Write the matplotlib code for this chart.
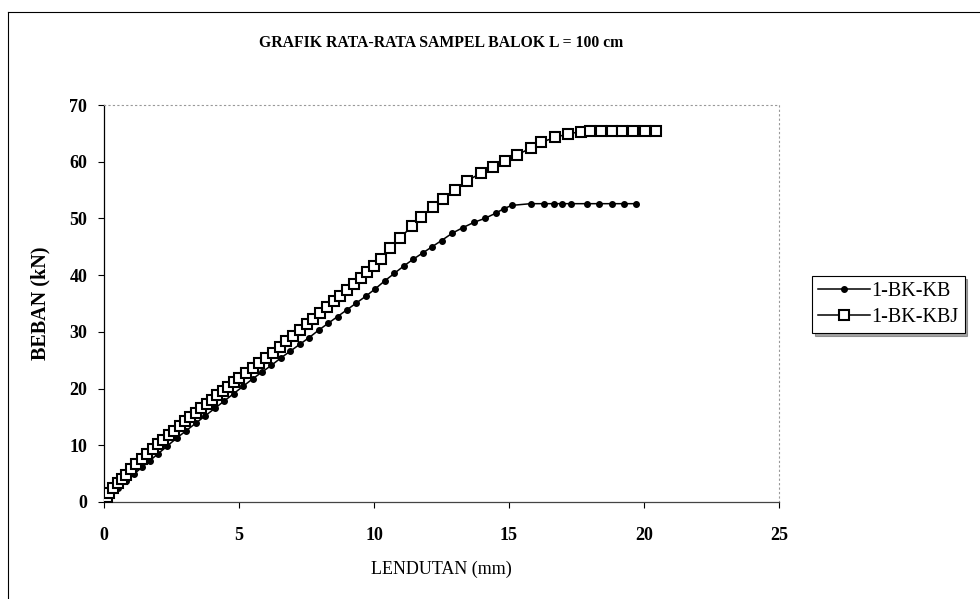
import matplotlib as mpl
mpl.use('Agg')
import matplotlib.pyplot as plt
from matplotlib.lines import Line2D

plt.rcParams['font.family'] = ['Liberation Serif', 'DejaVu Serif']

# 1-BK-KB (dots)
kb_x = [0, 0.25, 0.5, 0.8, 1.1, 1.4, 1.7, 2.0, 2.35, 2.7, 3.05, 3.4, 3.75, 4.1, 4.45,
        4.8, 5.15, 5.5, 5.85, 6.2, 6.55, 6.9, 7.25, 7.6, 7.95, 8.3, 8.65, 9.0, 9.35,
        9.7, 10.05, 10.4, 10.75, 11.1, 11.45, 11.8, 12.15, 12.5, 12.9, 13.3, 13.7,
        14.1, 14.5, 14.8, 15.1, 15.8, 16.3, 16.65, 16.95, 17.3, 17.9, 18.35, 18.8,
        19.25, 19.7]
kb_y = [0, 1.3, 2.4, 3.7, 4.9, 6.1, 7.3, 8.5, 9.9, 11.3, 12.6, 13.9, 15.2, 16.5, 17.8,
        19.1, 20.4, 21.7, 22.9, 24.1, 25.4, 26.6, 27.8, 29.0, 30.3, 31.5, 32.7, 33.9, 35.1,
        36.3, 37.6, 39.0, 40.3, 41.6, 42.8, 43.9, 45.0, 46.1, 47.4, 48.4, 49.3,
        50.0, 50.9, 51.7, 52.3, 52.6, 52.6, 52.6, 52.6, 52.6, 52.6, 52.6, 52.6,
        52.6, 52.6]

# 1-BK-KBJ (squares)
kbj_x = [0, 0.1, 0.2, 0.35, 0.5, 0.65, 0.8,
         1.0, 1.2, 1.4, 1.6, 1.8, 2.0, 2.2, 2.4, 2.6, 2.8, 3.0, 3.2, 3.4, 3.6, 3.8,
         4.0, 4.2, 4.4, 4.6, 4.8, 5.0,
         5.25, 5.5, 5.75, 6.0, 6.25, 6.5, 6.75, 7.0, 7.25, 7.5, 7.75, 8.0, 8.25, 8.5,
         8.75, 9.0, 9.25, 9.5, 9.75, 10.0, 10.25,
         10.6, 10.95, 11.4, 11.75, 12.2, 12.55, 13.0, 13.45, 13.95, 14.4, 14.85, 15.3,
         15.8, 16.2, 16.7, 17.2, 17.65, 18.0,
         18.4, 18.8, 19.2, 19.6, 20.05, 20.45]
kbj_y = [0, 0.8, 1.5, 2.5, 3.3, 4.1, 4.8,
         5.8, 6.7, 7.6, 8.5, 9.4, 10.2, 11.0, 11.8, 12.6, 13.4, 14.2, 15.0, 15.7, 16.5, 17.2,
         18.0, 18.8, 19.6, 20.3, 21.1, 21.8,
         22.7, 23.6, 24.5, 25.4, 26.3, 27.3, 28.3, 29.3, 30.3, 31.3, 32.3, 33.4, 34.4, 35.4,
         36.4, 37.4, 38.5, 39.5, 40.6, 41.7, 42.9,
         44.7, 46.5, 48.6, 50.3, 52.0, 53.5, 55.0, 56.6, 58.0, 59.1, 60.1, 61.2,
         62.4, 63.4, 64.3, 64.9, 65.3, 65.5,
         65.5, 65.5, 65.5, 65.5, 65.5, 65.5]

x_ticks = [0, 5, 10, 15, 20, 25]
y_ticks = [0, 10, 20, 30, 40, 50, 60, 70]

mydpi = 100
fig = plt.figure(figsize=(980 / mydpi, 599 / mydpi), dpi=mydpi)
ax = fig.add_axes([104 / 980, 97 / 599, 675 / 980, 397 / 599])

ax.plot(kb_x, kb_y, color='black', lw=1.1, marker='o', ms=4,
        mfc='black', mec='black', label='1-BK-KB', zorder=2)
ax.plot(kbj_x, kbj_y, color='black', lw=1.1, marker='s', ms=7.3,
        mfc='white', mec='black', mew=1.5, label='1-BK-KBJ', zorder=3)

ax.set_xlim(0, 25)
ax.set_ylim(0, 70)
ax.set_xticks(x_ticks)
ax.set_yticks(y_ticks)
ax.tick_params(direction='out', length=4, width=0.8, labelsize=13)
ax.tick_params(axis='x', pad=14)
ax.tick_params(axis='y', pad=8)
for lbl in ax.get_xticklabels() + ax.get_yticklabels():
    lbl.set_fontweight('bold')

for side in ['top', 'right']:
    ax.spines[side].set_linestyle((0, (1, 3)))
    ax.spines[side].set_color('#999999')
    ax.spines[side].set_linewidth(0.8)
ax.spines['left'].set_linewidth(0.9)
ax.spines['bottom'].set_linewidth(0.9)
ax.spines['bottom'].set_color('#444444')

ax.set_xlabel('LENDUTAN (mm)', fontsize=13, labelpad=12)
ax.set_ylabel('BEBAN (kN)', fontsize=14.5, fontweight='bold', labelpad=14)
fig.text(441 / 980, 1 - 43 / 599, 'GRAFIK RATA-RATA SAMPEL BALOK L = 100 cm',
         ha='center', va='center', fontsize=11.3, fontweight='bold')

leg = fig.legend(loc='upper left', bbox_to_anchor=(812 / 980, 1 - 276 / 599),
                 fontsize=14.5, frameon=True, fancybox=False, shadow=True,
                 edgecolor='black', borderpad=0.3, handlelength=2.6,
                 handletextpad=0.05, labelspacing=0.35, borderaxespad=0)
leg.get_frame().set_linewidth(0.8)

# chart area border (top and left edges visible)
fig.add_artist(Line2D([8 / 980, 1], [1 - 12 / 599, 1 - 12 / 599], color='black', lw=0.8))
fig.add_artist(Line2D([8 / 980, 8 / 980], [0, 1 - 12 / 599], color='black', lw=0.8))

plt.savefig('out.png', dpi=mydpi)
plt.close(fig='all')
